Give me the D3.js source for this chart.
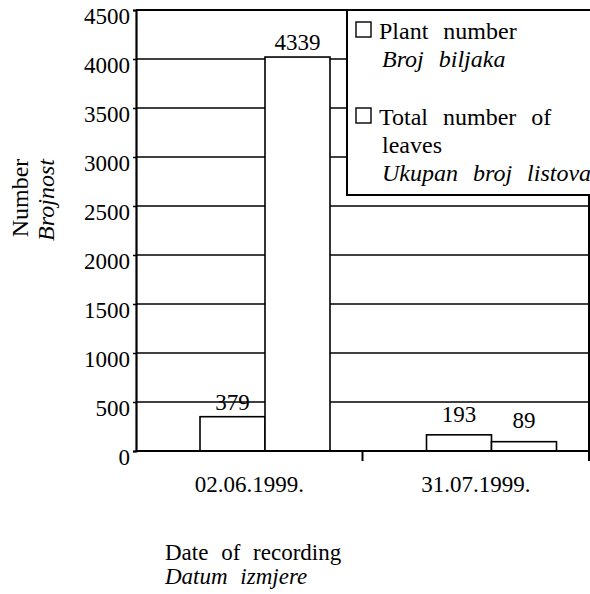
<!DOCTYPE html>
<html lang="en">
<head>
  <meta charset="UTF-8">
  <title>Number / Brojnost</title>
  <script src="https://d3js.org/d3.v7.min.js"></script>
  <style>
    body { margin: 0; background: #fff; }
  </style>
</head>
<body>
  <script>
    // 1. Data
    const dates = ["02.06.1999.", "31.07.1999."];
    const plantLabels = [379, 193];
    const leafLabels = [4339, 89];
    // bar heights as drawn in the picture (the tall bar stops near 4000)
    const plantBars = [350, 165];
    const leafBars = [4020, 95];
    const yTicks = [0, 500, 1000, 1500, 2000, 2500, 3000, 3500, 4000, 4500];

    // 2. SVG Canvas
    const width = 590, height = 594;
    const plotL = 136, plotR = 589, plotT = 10, plotB = 451;
    const serif = "'Liberation Serif', 'DejaVu Serif', serif";
    const svg = d3.select("body")
                  .append("svg")
                  .attr("width", width)
                  .attr("height", height)
                  .style("font-family", serif);

    // 3. Scales
    const x0 = d3.scaleBand()
                 .domain(dates)
                 .range([plotL, plotR]);

    const x1 = d3.scaleBand()
                 .domain(["plant", "leaf"])
                 .range([64, 194]);

    const y = d3.scaleLinear()
                .domain([0, 4500])
                .range([plotB, plotT]);

    // 4. Gridlines
    svg.append("g")
       .selectAll("line")
       .data(yTicks.slice(1))
       .enter()
       .append("line")
       .attr("x1", plotL)
       .attr("x2", plotR)
       .attr("y1", d => y(d))
       .attr("y2", d => y(d))
       .attr("stroke", "#000")
       .attr("stroke-width", 1.5);

    // right border
    svg.append("line")
       .attr("x1", plotR).attr("x2", plotR)
       .attr("y1", plotT).attr("y2", plotB + 10)
       .attr("stroke", "#000").attr("stroke-width", 2);

    // 5. Bars
    const rows = dates.map((d, i) => ({
      date: d,
      bars: [
        { key: "plant", value: plantBars[i], label: plantLabels[i] },
        { key: "leaf", value: leafBars[i], label: leafLabels[i] }
      ]
    }));

    const groups = svg.selectAll(".group")
       .data(rows)
       .enter()
       .append("g")
       .attr("transform", d => `translate(${x0(d.date)},0)`);

    groups.selectAll("rect")
       .data(d => d.bars)
       .enter()
       .append("rect")
       .attr("x", d => x1(d.key))
       .attr("y", d => y(d.value))
       .attr("width", x1.bandwidth())
       .attr("height", d => plotB - y(d.value))
       .attr("fill", "#fff")
       .attr("stroke", "#000")
       .attr("stroke-width", 1.6);

    const labelLift = { "4339": 7, "379": 7, "193": 13, "89": 14 };
    groups.selectAll(".val")
       .data(d => d.bars)
       .enter()
       .append("text")
       .attr("x", d => x1(d.key) + x1.bandwidth() / 2)
       .attr("y", d => y(d.value) - labelLift[d.label])
       .attr("text-anchor", "middle")
       .attr("font-size", 23)
       .text(d => d.label);

    // 6. Axes
    const yAxis = svg.append("g")
       .attr("transform", `translate(${plotL},0)`)
       .call(d3.axisLeft(y).tickValues(yTicks).tickSize(3).tickPadding(3).tickFormat(d3.format("d")));
    yAxis.select(".domain").attr("stroke-width", 2.2);
    yAxis.selectAll("line").attr("stroke-width", 1.5);
    yAxis.selectAll("text")
         .attr("dy", "0.6em")
         .attr("font-size", 23)
         .attr("font-family", serif);

    // top border
    svg.append("line")
       .attr("x1", plotL).attr("x2", plotR)
       .attr("y1", plotT).attr("y2", plotT)
       .attr("stroke", "#000").attr("stroke-width", 2);

    // baseline
    svg.append("line")
       .attr("x1", plotL).attr("x2", plotR)
       .attr("y1", plotB).attr("y2", plotB)
       .attr("stroke", "#000").attr("stroke-width", 2.2);

    // category boundary ticks
    svg.append("g")
       .selectAll("line")
       .data(dates)
       .enter()
       .append("line")
       .attr("x1", d => x0(d) + x0.bandwidth())
       .attr("x2", d => x0(d) + x0.bandwidth())
       .attr("y1", plotB)
       .attr("y2", plotB + 10)
       .attr("stroke", "#000")
       .attr("stroke-width", 2);

    svg.append("g")
       .selectAll("text")
       .data(dates)
       .enter()
       .append("text")
       .attr("x", d => x0(d) + x0.bandwidth() / 2)
       .attr("y", 492)
       .attr("text-anchor", "middle")
       .attr("font-size", 23)
       .text(d => d);

    // 7. Legend
    const lg = svg.append("g").attr("transform", `translate(347,${plotT})`);
    lg.append("rect")
      .attr("width", 260).attr("height", 185)
      .attr("fill", "#fff").attr("stroke", "#000").attr("stroke-width", 2);
    const legendItems = [
      { top: 12, lines: ["Plant number", "Broj biljaka"] },
      { top: 98, lines: ["Total number of", "leaves", "Ukupan broj listova"] }
    ];
    legendItems.forEach(item => {
      lg.append("rect")
        .attr("x", 9).attr("y", item.top).attr("width", 15).attr("height", 15)
        .attr("fill", "#fff").attr("stroke", "#000").attr("stroke-width", 1.4);
      item.lines.forEach((t, j) => {
        lg.append("text")
          .attr("x", j === 0 ? 32 : 35)
          .attr("y", item.top + 17 + j * 28)
          .attr("font-size", 24)
          .attr("font-style", (j === item.lines.length - 1) ? "italic" : null)
          .style("word-spacing", "9px")
          .text(t);
      });
    });

    // 8. Axis titles
    svg.append("text")
       .attr("transform", "translate(28,198) rotate(-90)")
       .attr("text-anchor", "middle")
       .attr("font-size", 24)
       .text("Number");
    svg.append("text")
       .attr("transform", "translate(54,200) rotate(-90)")
       .attr("text-anchor", "middle")
       .attr("font-size", 24)
       .attr("font-style", "italic")
       .text("Brojnost");

    svg.append("text")
       .attr("x", 165).attr("y", 560)
       .attr("font-size", 23)
       .style("word-spacing", "7px")
       .text("Date of recording");
    svg.append("text")
       .attr("x", 165).attr("y", 584)
       .attr("font-size", 23)
       .attr("font-style", "italic")
       .style("word-spacing", "7px")
       .text("Datum izmjere");
  </script>
</body>
</html>
